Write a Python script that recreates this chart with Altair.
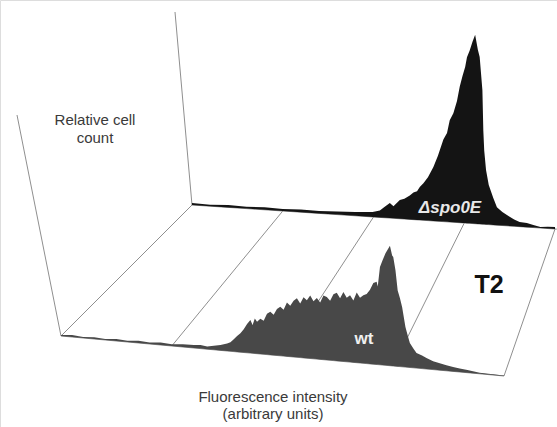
import altair as alt
import pandas as pd

# ---- data (fluorescence in log decades 0..4, relative count in % of axis height)
wt_u = [0.00, 0.10, 0.20, 0.30, 0.40, 0.50, 0.60, 0.70, 0.80, 0.90, 1.00, 1.10, 1.20, 1.26, 1.32,
        1.38, 1.44, 1.50, 1.53, 1.56, 1.59, 1.62, 1.65, 1.68, 1.71, 1.73, 1.75, 1.77, 1.80, 1.83,
        1.86, 1.89, 1.92, 1.95, 1.98, 2.01, 2.04, 2.07, 2.10, 2.13, 2.16, 2.19, 2.22, 2.25, 2.28,
        2.31, 2.34, 2.37, 2.40, 2.43, 2.46, 2.49, 2.52, 2.55, 2.58, 2.61, 2.64, 2.67, 2.70, 2.73,
        2.76, 2.79, 2.82, 2.85, 2.86, 2.88, 2.90, 2.93, 2.95, 2.97, 2.99, 3.00, 3.02, 3.04, 3.06,
        3.08, 3.11, 3.13, 3.15, 3.18, 3.21, 3.26, 3.30, 3.36, 3.42, 3.48, 3.54, 3.60, 3.67, 3.72,
        3.78, 3.90, 4.00]
wt_c = [0.5, 0.9, 0.4, 0.8, 0.5, 0.9, 0.6, 1.0, 0.7, 1.1, 0.8, 1.2, 1.4, 1.6, 1.2,
        1.8, 2.4, 3.4, 4.1, 5.6, 7.2, 8.6, 10.5, 13.0, 15.0, 12.8, 15.8, 14.5, 16.0, 15.2,
        18.5, 19.5, 18.3, 21.0, 22.2, 21.0, 24.4, 23.0, 25.5, 26.7, 24.5, 27.5, 26.2, 28.5, 26.0,
        27.6, 25.8, 29.0, 28.5, 27.0, 30.0, 30.8, 28.5, 31.5, 29.0, 30.3, 28.0, 31.8, 29.5, 30.8,
        31.5, 33.5, 36.7, 37.5, 35.3, 44.3, 47.0, 50.7, 52.5, 54.3, 50.0, 49.3, 43.4, 34.4, 31.0,
        27.1, 18.1, 14.5, 11.1, 8.8, 6.8, 5.9, 5.0, 3.8, 3.2, 2.5, 2.0, 1.6, 1.2, 0.9,
        0.5, 0.3, 0.2]

mut_u = [0.00, 0.20, 0.40, 0.60, 0.80, 1.00, 1.20, 1.40, 1.60, 1.80, 1.99, 2.07, 2.12, 2.18, 2.22,
         2.29, 2.34, 2.40, 2.44, 2.48, 2.51, 2.55, 2.60, 2.66, 2.71, 2.77, 2.81, 2.84, 2.88, 2.92,
         2.95, 2.98, 3.01, 3.03, 3.06, 3.09, 3.12, 3.15, 3.17, 3.20, 3.21, 3.22, 3.24, 3.27, 3.32,
         3.36, 3.42, 3.47, 3.55, 3.61, 3.69, 3.77, 3.84, 3.92, 4.00]
mut_c = [1.0, 0.8, 1.2, 0.9, 1.3, 1.1, 1.4, 1.3, 1.6, 2.0, 2.6, 3.6, 5.5, 7.8, 6.2,
         9.7, 10.5, 12.4, 14.0, 14.8, 17.1, 19.2, 22.5, 28.0, 34.0, 42.5, 46.1, 52.8, 56.5, 63.0,
         70.5, 76.0, 80.8, 86.0, 89.6, 94.0, 97.9, 90.2, 86.5, 69.4, 48.7, 38.3, 28.2, 20.5, 13.9,
         9.3, 7.0, 5.6, 3.5, 2.4, 2.1, 1.2, 0.5, 0.9, 1.0]

grid_u = [0, 1, 2, 3, 4]

# ---- pseudo-3D projection (layout)
FRONT = dict(x0=61, dx=110.75, y0=336, dy=10.0, k=2.21, lean=-0.44)
BACK = dict(x0=192, dx=90.75, y0=205, dy=6.0, k=1.93, lean=-0.17)


def base(p, u):
    return p["x0"] + p["dx"] * u, p["y0"] + p["dy"] * u


def hist_df(p, us, cs):
    rows = []
    for u, c in zip(us, cs):
        bx, by = base(p, u)
        rows.append({"x": bx, "y": by - c * p["k"], "y2": by})
    return pd.DataFrame(rows)


front_df = hist_df(FRONT, wt_u, wt_c)
back_df = hist_df(BACK, mut_u, mut_c)

diag_rows = []
for u in grid_u:
    fx, fy = base(FRONT, u)
    bx, by = base(BACK, u)
    diag_rows.append({"x": fx, "y": fy, "x2": bx, "y2": by})
diag_df = pd.DataFrame(diag_rows)

axis_rows = []
for p in (FRONT, BACK):
    bx, by = base(p, 0)
    axis_rows.append({"x": bx, "y": by, "x2": bx + p["lean"] * 100, "y2": by - 100 * p["k"]})
axis_rows.append({**dict(zip(["x", "y"], base(FRONT, 0))), **dict(zip(["x2", "y2"], base(FRONT, 4)))})
axis_rows.append({**dict(zip(["x", "y"], base(BACK, 0))), **dict(zip(["x2", "y2"], base(BACK, 4.02)))})
axis_df = pd.DataFrame(axis_rows)

W, H = 557, 427
xs = alt.Scale(domain=[0, W], nice=False, zero=False)
ys = alt.Scale(domain=[0, H], nice=False, zero=False, reverse=True)
X = lambda f: alt.X(f, type="quantitative", scale=xs, axis=None)
Y = lambda f: alt.Y(f, type="quantitative", scale=ys, axis=None)

diag = alt.Chart(diag_df).mark_rule(color="#8f8f8f", strokeWidth=1).encode(
    x=X("x"), y=Y("y"), x2="x2", y2="y2")
axes = alt.Chart(axis_df).mark_rule(color="#8f8f8f", strokeWidth=1).encode(
    x=X("x"), y=Y("y"), x2="x2", y2="y2")

back = alt.Chart(back_df).mark_area(color="#141414", interpolate="linear").encode(
    x=X("x"), y=Y("y"), y2="y2")
front = alt.Chart(front_df).mark_area(color="#484848", interpolate="linear").encode(
    x=X("x"), y=Y("y"), y2="y2")

def label(text, px, py, size, color, weight="normal", style="normal", font="Liberation Sans"):
    return alt.Chart(pd.DataFrame({"t": [text]})).mark_text(
        fontSize=size, color=color, fontWeight=weight, fontStyle=style, font=font,
        align="center", baseline="alphabetic").encode(
        x=alt.value(px), y=alt.value(py), text="t:N")

texts = [
    label("Relative cell", 95, 125, 15, "#3a3a3a"),
    label("count", 95, 143, 15, "#3a3a3a"),
    label("Fluorescence intensity", 273, 402, 15, "#3a3a3a"),
    label("(arbitrary units)", 273, 419, 15, "#3a3a3a"),
    label("\u0394spo0E", 450, 213, 17, "#e8e8e8", weight="bold", style="italic"),
    label("wt", 364, 344, 17, "#f0f0f0", weight="bold"),
    label("T2", 489, 293, 25, "#111111", weight="bold"),
]

chart = alt.layer(diag, axes, back, front, *texts).properties(
    width=W, height=H, padding=0, autosize=alt.AutoSizeParams(type="none")
).configure_view(stroke=None).configure(background="white")

chart.save("out.html", embed_options={"renderer": "svg", "actions": False})
